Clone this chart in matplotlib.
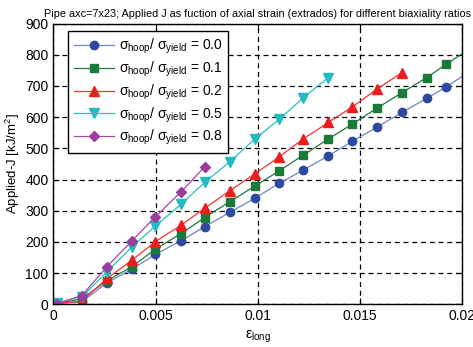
import matplotlib
matplotlib.use("Agg")
import matplotlib.pyplot as plt
from matplotlib.ticker import FuncFormatter

plt.rcParams['font.family'] = ['Liberation Sans', 'DejaVu Sans']
plt.rcParams['mathtext.fontset'] = 'custom'
plt.rcParams['mathtext.rm'] = 'Liberation Sans'
plt.rcParams['mathtext.it'] = 'Liberation Sans'
plt.rcParams['mathtext.bf'] = 'Liberation Sans:bold'

strain = [0.00016, 0.00139, 0.00262, 0.00385, 0.00499, 0.00625, 0.0074, 0.00863,
          0.00985, 0.01105, 0.01222, 0.01345, 0.01463, 0.01581, 0.01704, 0.01827,
          0.01922, 0.0205]
j_00 = [2, 8, 69, 113, 160, 204, 249, 295, 340, 388, 430, 476, 523, 567, 615, 660, 697, 752]
j_01 = [3, 17, 76, 121, 177, 227, 278, 329, 379, 428, 478, 530, 578, 628, 678, 727, 770, 824]
j_02 = [3, 10, 83, 142, 201, 254, 308, 364, 418, 473, 530, 583, 633, 689, 742]
j_05 = [5, 24, 104, 185, 251, 321, 391, 457, 530, 593, 662, 727]
j_08 = [2, 28, 121, 204, 281, 361, 441]

ratios = ["0.0", "0.1", "0.2", "0.5", "0.8"]
series = [j_00, j_01, j_02, j_05, j_08]
line_colors = ["#6f86c8", "#1f7a3c", "#ff3030", "#22c4c4", "#a548a8"]
marker_colors = ["#2c4aa0", "#1a7a3a", "#ee1c1c", "#22bcc0", "#9c3c9c"]
markers = ["o", "s", "^", "v", "D"]
msizes = [6, 6, 6.5, 6.5, 5]

fig = plt.figure(figsize=(4.73, 3.47), dpi=100)
ax = fig.add_axes([0.113, 0.123, 0.864, 0.809])

for r, y, lc, mc, m, ms in zip(ratios, series, line_colors, marker_colors, markers, msizes):
    n = len(y)
    ax.plot(strain[:n], y, color=lc, lw=0.9, marker=m, ms=ms,
            markerfacecolor=mc, markeredgecolor=mc, clip_on=True,
            label=r'$\sigma_{hoop}$/ $\sigma_{yield}$ = ' + r)

ax.set_xlim(0, 0.02)
ax.set_ylim(0, 900)
ax.set_xticks([0, 0.005, 0.01, 0.015, 0.02])
ax.set_yticks(range(0, 901, 100))
ax.xaxis.set_major_formatter(FuncFormatter(lambda v, p: "%g" % v))
ax.tick_params(direction='in', labelsize=10, length=4, top=True, right=True,
               labeltop=False, labelright=False)
ax.grid(True, color='black', linestyle=(0, (4, 3)), lw=0.9)
for s in ax.spines.values():
    s.set_linewidth(1.0)

ax.set_xlabel(r'$\varepsilon_{long}$', fontsize=10, labelpad=4)
ax.set_ylabel(r'Applied-J [kJ/m$^2$]', fontsize=9.5, labelpad=2)
ax.set_title('Pipe axc=7x23; Applied J as fuction of axial strain (extrados) for different biaxiality ratios',
             fontsize=7.8, pad=5, loc='center')

leg = ax.legend(loc='upper left', bbox_to_anchor=(0.036, 0.972), fontsize=10,
                frameon=True, fancybox=False, edgecolor='black', framealpha=1,
                handlelength=2.9, labelspacing=0.25, borderpad=0.4, handletextpad=0.35,
                borderaxespad=0)
leg.get_frame().set_linewidth(1.0)

fig.savefig("out.png", dpi=100)
